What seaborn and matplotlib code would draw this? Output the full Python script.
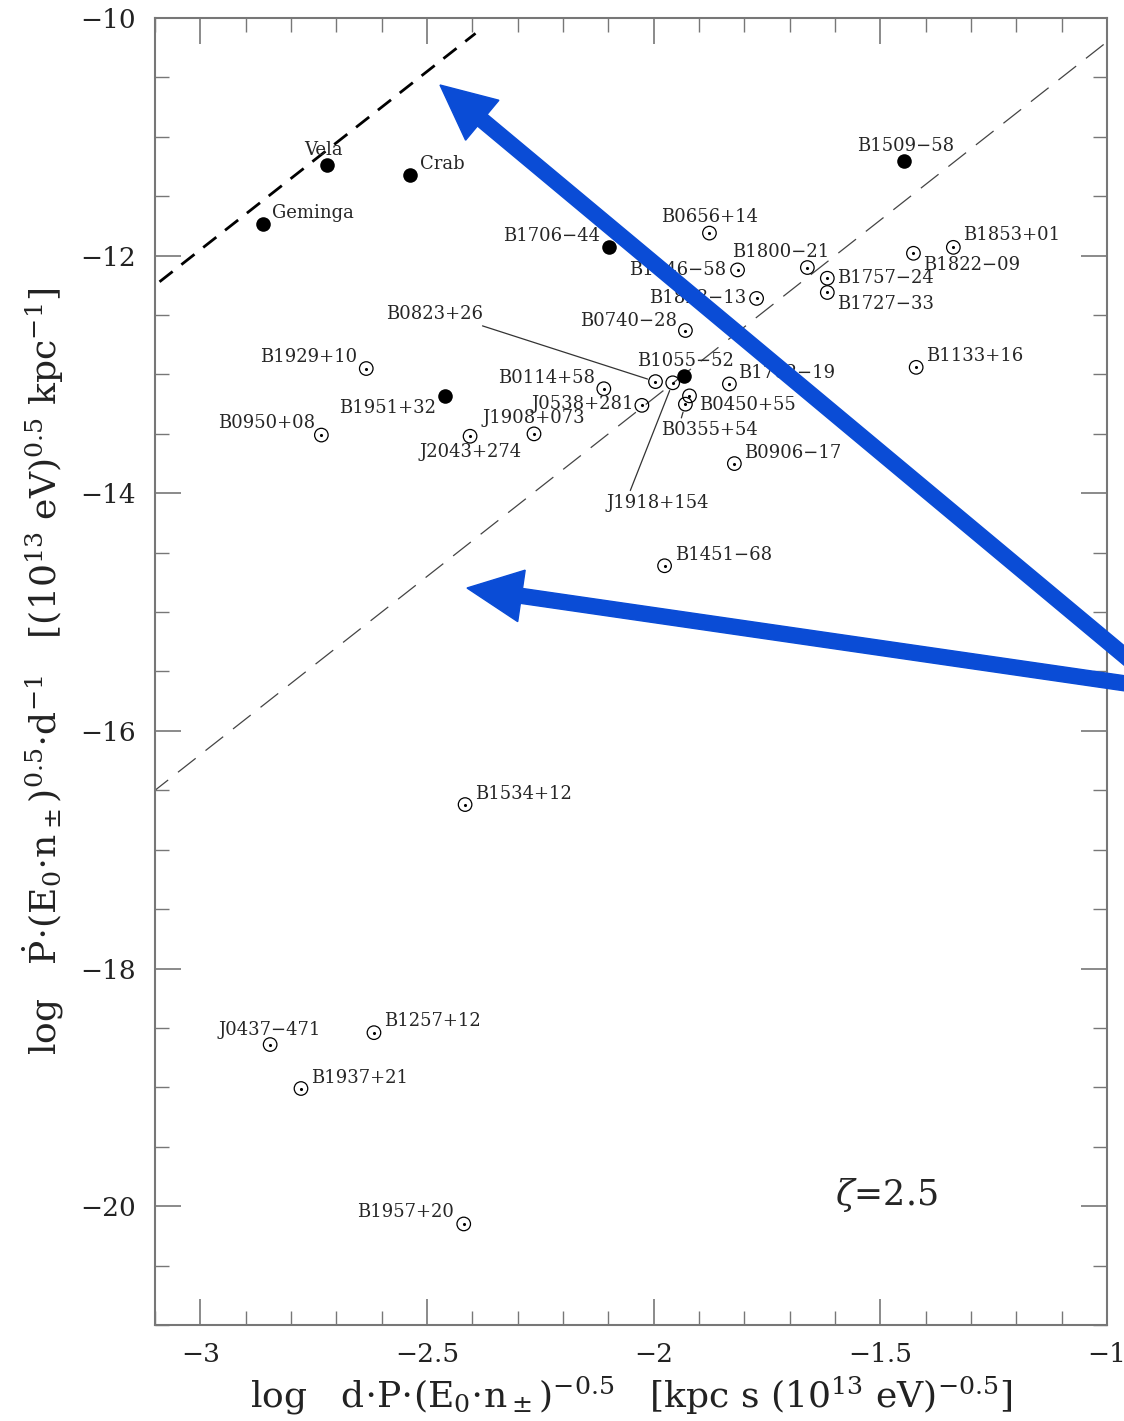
import pandas as pd
import matplotlib.pyplot as plt
import seaborn as sns
from matplotlib.patches import FancyArrow
from matplotlib.transforms import IdentityTransform
from matplotlib.ticker import MultipleLocator

# 1. Pulsar data
names = ["Vela", "Crab", "Geminga", "B1706-44", "B1509-58", "B1951+32", "B1055-52",
         "B0656+14", "B1046-58", "B1800-21", "B1823-13", "B1757-24", "B1727-33",
         "B1822-09", "B1853+01", "B0740-28", "B1133+16", "B1702-19", "B0823+26",
         "J1918+154", "B0450+55", "B0355+54", "J0538+281", "B0114+58", "J1908+073",
         "J2043+274", "B1929+10", "B0950+08", "B0906-17", "B1451-68", "B1534+12",
         "J0437-471", "B1257+12", "B1937+21", "B1957+20"]
log_x = [-2.720, -2.537, -2.861, -2.099, -1.447, -2.460, -1.934,
         -1.877, -1.815, -1.661, -1.773, -1.617, -1.617,
         -1.427, -1.339, -1.930, -1.421, -1.833, -1.996,
         -1.958, -1.921, -1.930, -2.026, -2.110, -2.264,
         -2.405, -2.634, -2.733, -1.822, -1.976, -2.416,
         -2.846, -2.617, -2.778, -2.419]
log_y = [-11.24, -11.32, -11.73, -11.93, -11.20, -13.18, -13.01,
         -11.81, -12.12, -12.10, -12.36, -12.19, -12.31,
         -11.98, -11.93, -12.63, -12.94, -13.08, -13.06,
         -13.07, -13.18, -13.25, -13.26, -13.12, -13.50,
         -13.52, -12.95, -13.51, -13.75, -14.61, -16.62,
         -18.64, -18.54, -19.01, -20.15]
detected = [True] * 7 + [False] * 28

# death lines: log y = slope * log x + offset
line_slope = 3.0
thick_offset = -2.95
thin_offset = -7.2

# label placement (pixel offsets from the point, alignment)
label_pos = {
    "Vela": (-4, 15, "center"), "Crab": (10, 11, "left"), "Geminga": (9, 11, "left"),
    "B1706-44": (-9, 11, "right"), "B1509-58": (1, 15, "center"),
    "B1951+32": (-9, -12, "right"), "B1055-52": (2, 15, "center"),
    "B0656+14": (0, 16, "center"), "B1046-58": (-11, 0, "right"),
    "B1800-21": (-27, 16, "center"), "B1823-13": (-10, 0, "right"),
    "B1757-24": (10, 0, "left"), "B1727-33": (10, -12, "left"),
    "B1822-09": (10, -12, "left"), "B1853+01": (10, 12, "left"),
    "B0740-28": (-8, 10, "right"), "B1133+16": (10, 11, "left"),
    "B1702-19": (9, 11, "left"), "B0823+26": (-221, 68, "center"),
    "J1918+154": (-15, -120, "center"), "B0450+55": (10, -9, "left"),
    "B0355+54": (24, -26, "center"), "J0538+281": (-8, 1, "right"),
    "B0114+58": (-9, 11, "right"), "J1908+073": (0, 16, "center"),
    "J2043+274": (0, -16, "center"), "B1929+10": (-9, 12, "right"),
    "B0950+08": (-6, 12, "right"), "B0906-17": (10, 11, "left"),
    "B1451-68": (10, 11, "left"), "B1534+12": (10, 11, "left"),
    "J0437-471": (0, 15, "center"), "B1257+12": (10, 12, "left"),
    "B1937+21": (10, 11, "left"), "B1957+20": (-10, 12, "right"),
}
leaders = {"B0823+26": (0.89, 0.0), "J1918+154": (0.22, 1.0), "B0355+54": (0.2, 1.0)}

df = pd.DataFrame({"name": names, "x": log_x, "y": log_y, "detected": detected})

# 2. Style
sns.set_theme(style="ticks")
plt.rcParams['font.family'] = ['DejaVu Serif']
plt.rcParams['mathtext.fontset'] = 'dejavuserif'

fig = plt.figure(figsize=(11.24, 14.21), dpi=100)
ax = fig.add_axes([0.1379, 0.0676, 0.847, 0.9197])

# 3. Points
sns.scatterplot(data=df[df.detected], x="x", y="y", ax=ax, s=110, color="black",
                edgecolor="black", linewidth=0, zorder=4)
opn = df[~df.detected]
sns.scatterplot(data=opn, x="x", y="y", ax=ax, s=95, facecolor="none",
                edgecolor="black", linewidth=0.9, zorder=4)
sns.scatterplot(data=opn, x="x", y="y", ax=ax, s=5, color="black",
                linewidth=0, zorder=4)

# 4. Death lines
xs = pd.Series([-3.09, -2.393])
ax.plot(xs, line_slope * xs + thick_offset, color="black", lw=2, dashes=(6, 4), zorder=2)
xt = pd.Series([-3.11, -0.99])
ax.plot(xt, line_slope * xt + thin_offset, color="#444444", lw=0.9, dashes=(18, 10), zorder=2)

# 5. Labels
for n, px, py in zip(names, log_x, log_y):
    dx, dy, ha = label_pos[n]
    arrowprops = None
    if n in leaders:
        arrowprops = dict(arrowstyle="-", color="#333333", lw=0.9, shrinkA=0, shrinkB=6,
                          relpos=leaders[n])
    ax.annotate(n.replace("-", "\u2212"), xy=(px, py), xytext=(dx, dy),
                textcoords="offset pixels", ha=ha, va="center", fontsize=13,
                arrowprops=arrowprops, zorder=5)

ax.text(-1.60, -19.91, r"$\zeta$=2.5", fontsize=25, ha="left", va="center")

# 6. Axes
ax.set_xlim(-3.1, -1.0)
ax.set_ylim(-21, -10)
ax.xaxis.set_major_locator(MultipleLocator(0.5))
ax.xaxis.set_minor_locator(MultipleLocator(0.1))
ax.yaxis.set_major_locator(MultipleLocator(2))
ax.yaxis.set_minor_locator(MultipleLocator(0.5))
ax.xaxis.set_major_formatter(lambda v, p: f"{v:g}".replace("-", "\u2212"))
ax.yaxis.set_major_formatter(lambda v, p: f"{v:g}".replace("-", "\u2212"))
ax.tick_params(which="both", direction="in", top=True, right=True, color="#777777")
ax.tick_params(which="major", length=19, width=1.2, labelsize=19, labelcolor="#222222")
ax.tick_params(which="minor", length=10, width=1.0)
ax.tick_params(axis="x", which="major", pad=12)
ax.tick_params(axis="y", which="major", pad=14)
for sp in ax.spines.values():
    sp.set_color("#777777")
    sp.set_linewidth(1.5)

ax.set_xlabel(r"log   d$\cdot$P$\cdot$(E$_0$$\cdot$n$_\pm$)$^{-0.5}$   [kpc s (10$^{13}$ eV)$^{-0.5}$]",
              fontsize=26, labelpad=6, color="#222222")
ax.set_ylabel(r"log   $\dot{\mathrm{P}}$$\cdot$(E$_0$$\cdot$n$_\pm$)$^{0.5}$$\cdot$d$^{-1}$   [(10$^{13}$ eV)$^{0.5}$ kpc$^{-1}$]",
              fontsize=26, labelpad=10, color="#222222")

# 7. Blue pointer arrows (figure pixels)
blue = "#0a4cd6"
fig.add_artist(FancyArrow(1150, 744, 440 - 1150, 1336 - 744, width=15, head_width=52,
                          head_length=55, length_includes_head=True, color=blue,
                          transform=IdentityTransform(), zorder=10))
fig.add_artist(FancyArrow(1150, 734, 467 - 1150, 833 - 734, width=15, head_width=52,
                          head_length=55, length_includes_head=True, color=blue,
                          transform=IdentityTransform(), zorder=10))

fig.savefig("out.png", dpi=100)
